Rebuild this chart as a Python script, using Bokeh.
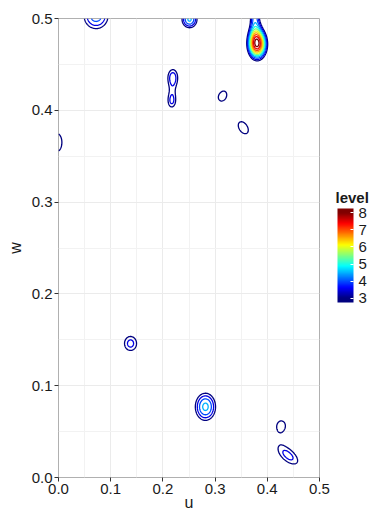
import numpy as np
from bokeh.plotting import figure
from bokeh.models import FixedTicker, PrintfTickFormatter, ColorBar, LinearColorMapper, LinearAxis
from bokeh.embed import file_html
from bokeh.resources import INLINE

# ---- data: peaks of the field ----
peak_u   = [0.072, 0.251, 0.381, 0.376, 0.219, 0.217, 0.314, 0.354, -0.003, 0.138, 0.2815, 0.427, 0.440]
peak_w   = [0.503, 0.499, 0.472, 0.520, 0.436, 0.409, 0.416, 0.381, 0.365, 0.146, 0.077, 0.057, 0.024]
peak_h   = [4.3, 4.6, 7.6, 5.0, 3.8, 3.35, 3.3, 3.3, 3.4, 3.7, 4.65, 3.3, 3.7]
peak_su  = [0.027, 0.0155, 0.0144, 0.0095, 0.013, 0.011, 0.0153, 0.022, 0.019, 0.0178, 0.0207, 0.0153, 0.028]
peak_sw  = [0.0165, 0.0098, 0.013, 0.025, 0.012, 0.010, 0.010, 0.015, 0.0196, 0.0118, 0.0158, 0.010, 0.0143]
peak_rho = [0, 0, 0, 0, 0, 0, 0.3, -0.4, 0, 0, 0, 0, -0.6]

levels = [3.0, 3.5, 4.0, 4.5, 5.0, 5.5, 6.0, 6.5, 7.0, 7.5, 8.0]
x_ticks = [0.0, 0.1, 0.2, 0.3, 0.4, 0.5]
x_minor = [0.05, 0.15, 0.25, 0.35, 0.45]
y_ticks = [0.0, 0.1, 0.2, 0.3, 0.4, 0.5]
y_minor = [0.05, 0.15, 0.25, 0.35, 0.45]
legend_ticks = [3, 4, 5, 6, 7, 8]
legend_title = "level"

# ---- field on a grid ----
u_grid = np.linspace(0, 0.5, 401)
w_grid = np.linspace(0, 0.5, 401)
U, W = np.meshgrid(u_grid, w_grid)
Z = np.zeros_like(U)
for u0, w0, h, su, sw, rho in zip(peak_u, peak_w, peak_h, peak_su, peak_sw, peak_rho):
    a = (U - u0) / su
    b = (W - w0) / sw
    Z += h * np.exp(-(a * a - 2 * rho * a * b + b * b) / (2 * (1 - rho * rho)))

# ---- jet palette ----
anchors = ["#00007F", "#0000FF", "#007FFF", "#00FFFF", "#7FFF7F", "#FFFF00", "#FF7F00", "#FF0000", "#7F0000"]
anc = np.array([[int(c[i:i + 2], 16) for i in (1, 3, 5)] for c in anchors], dtype=float)
def jet(t):
    t = min(max(t, 0.0), 1.0) * (len(anc) - 1)
    i = min(int(t), len(anc) - 2)
    f = t - i
    c = anc[i] * (1 - f) + anc[i + 1] * f
    return "#%02x%02x%02x" % tuple(int(round(v)) for v in c)

lo, hi = min(levels), max(levels)
line_colors = [jet((l - lo) / (hi - lo)) for l in levels]

cb_low, cb_high = 2.75, 8.25
palette = [jet(((cb_low + (cb_high - cb_low) * (i + 0.5) / 256) - lo) / (hi - lo)) for i in range(256)]

FONT = "Liberation Sans"
TXT = "#1a1a1a"

p = figure(frame_width=261, frame_height=459, x_range=(0, 0.5), y_range=(0, 0.5),
           output_backend="svg", toolbar_location=None,
           min_border_left=58, min_border_right=52, min_border_top=18, min_border_bottom=38,
           background_fill_color="white", border_fill_color="white")
p.outline_line_color = "#b0b0b0"
p.outline_line_width = 1

for ax, ticks, minor in ((p.xaxis[0], x_ticks, x_minor), (p.yaxis[0], y_ticks, y_minor)):
    ax.ticker = FixedTicker(ticks=ticks, minor_ticks=minor)
    ax.formatter = PrintfTickFormatter(format="%.1f")
    ax.major_tick_in = 0
    ax.major_tick_out = 4
    ax.major_tick_line_color = "#333333"
    ax.minor_tick_line_color = None
    ax.axis_line_color = None
    ax.major_label_standoff = 2
    ax.major_label_text_font_size = "15px"
    ax.major_label_text_font = FONT
    ax.major_label_text_color = TXT
    ax.axis_label_text_font_size = "16px"
    ax.axis_label_text_font_style = "normal"
    ax.axis_label_text_font = FONT
    ax.axis_label_text_color = TXT

p.yaxis.axis_label = "w"
p.yaxis.axis_label_standoff = 5
p.xaxis.axis_label = "u"
p.xaxis.axis_label_standoff = -3

for g in (p.xgrid[0], p.ygrid[0]):
    g.grid_line_color = "#ebebeb"
    g.grid_line_width = 1
    g.minor_grid_line_color = "#f2f2f2"
    g.minor_grid_line_width = 1

p.contour(x=u_grid, y=w_grid, z=Z, levels=levels, line_color=line_colors, line_width=1.3, fill_color=None)

mapper = LinearColorMapper(palette=palette, low=cb_low, high=cb_high)
cb = ColorBar(color_mapper=mapper, ticker=FixedTicker(ticks=legend_ticks),
              width=16, height=94, location=(279, 175), padding=0, margin=0,
              label_standoff=5, major_label_text_font_size="15px", major_label_text_font=FONT,
              major_label_text_color=TXT,
              major_tick_line_color="white", major_tick_in=3, major_tick_out=0,
              bar_line_color=None, border_line_color=None, background_fill_color=None)
p.add_layout(cb)

# legend title: a label-only axis on the right, placed just above the colour bar
title_axis = LinearAxis(ticker=FixedTicker(ticks=[0.305]), major_label_overrides={0.305: legend_title},
                        major_tick_line_color=None, minor_tick_line_color=None, axis_line_color=None,
                        major_tick_out=0, major_tick_in=0, major_label_standoff=16,
                        major_label_text_font_size="15px", major_label_text_font_style="bold",
                        major_label_text_font=FONT, major_label_text_color=TXT)
p.add_layout(title_axis, "right")

open("out.html", "w").write(file_html(p, INLINE))
